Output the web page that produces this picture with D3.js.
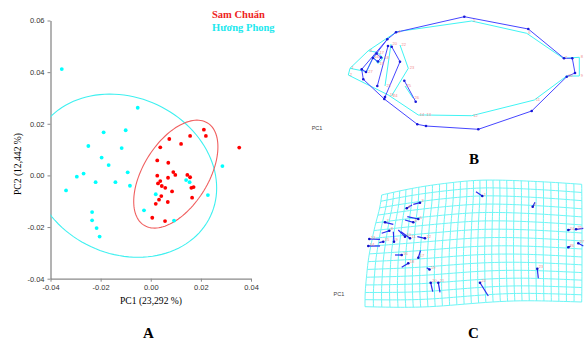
<!DOCTYPE html>
<html>
<head>
<meta charset="utf-8">
<script src="https://cdn.jsdelivr.net/npm/d3@7"></script>
<style>
  body { margin: 0; background: #fff; }
  svg { display: block; }
</style>
</head>
<body>
<div id="chart"></div>
<script>
// ---------- panel A : PCA scores ----------
var samChuanX = [0.0212,0.0157,0.0220,0.0074,0.0121,0.0038,0.0353,0.0026,0.0070,0.0026,0.0090,0.0098,0.0146,0.0157,0.0038,0.0069,0.0029,0.0044,0.0058,0.0162,0.0171,0.0085,0.0042,0.0165,0.0033,0.0068,0.0020,0.0006,0.0057]
var samChuanY = [0.0177,0.0153,0.0153,0.0141,0.0122,0.0109,0.0108,0.0058,0.0049,-0.0001,0.0013,0.0002,0.0002,-0.0007,-0.0022,-0.0009,-0.0031,-0.0041,-0.0048,-0.0048,-0.0045,-0.0062,-0.0080,-0.0086,-0.0094,-0.0103,-0.0110,-0.0164,-0.0177]
var huongPhongX = [-0.0355,-0.0052,-0.0188,-0.0100,-0.0249,-0.0116,-0.0196,-0.0168,-0.0268,-0.0295,-0.0092,-0.0220,-0.0141,-0.0083,-0.0338,-0.0027,-0.0234,-0.0234,-0.0216,-0.0204,0.0141,0.0155,0.0020,0.0093,0.0228,0.0286]
var huongPhongY = [0.0412,0.0262,0.0167,0.0175,0.0114,0.0106,0.0069,0.0040,0.0007,-0.0005,0.0012,-0.0026,-0.0026,-0.0040,-0.0058,-0.0135,-0.0142,-0.0174,-0.0204,-0.0237,-0.0018,-0.0026,-0.0073,-0.0175,-0.0076,0.0036]
// ellipse: centre x, centre y, spread x, spread y, correlation
var samChuanEllipse = [0.0100, 0.0005, 0.0168, 0.0209, 0.506]
var huongPhongEllipse = [-0.0107, -0.0001, 0.0370, 0.0316, -0.151]
var xTicks = [-0.04, -0.02, 0.00, 0.02, 0.04]
var yTicks = [-0.04, -0.02, 0.00, 0.02, 0.04, 0.06]
var groupNames = ["Sam Chuẩn", "Hương Phong"]

// ---------- panel B : wireframes (mean = cyan, PC1 = blue) ----------
var meanShape = [[10,58.3],[8.3,65],[28.3,40.7],[56.7,21.7],[131.7,11],[186.7,23.3],[223.3,48.3],[239.3,47.3],[239.3,66],[226.7,66],[194.3,90],[131.7,105.7],[85,105],[78.3,105],[48.3,85],[33,47],[38,42.5],[43,48],[38,53.5],[51,34],[45,76],[60,35],[68.3,58.3],[51.5,86],[65,76],[73,88],[26.7,61.7]]
var pc1Shape = [[21.7,59.3],[23.3,69.3],[47.3,29.3],[56,22.3],[124.3,6.7],[188.3,19],[224,48.3],[232.3,48.3],[235,63],[226.7,66.7],[191.7,101],[138.3,119.3],[86,116],[77.3,114.3],[44.3,89],[33,48],[36.5,43.5],[41,47.5],[38,51.5],[48,36],[37.3,76],[51.7,36.7],[60,51.7],[45,87],[64.3,70.7],[75.7,91.7],[26,62]]
var links = [[0,2],[2,3],[3,4],[4,5],[5,6],[6,7],[7,8],[8,9],[9,10],[10,11],[11,12],[12,13],[13,14],[14,1],[1,0],
             [15,16],[16,17],[17,18],[18,15],[2,16],[0,26],[26,15],[19,20],[21,22],[22,23],[24,25]]

// ---------- panel C : deformation grid + landmark shifts ----------
var gridTop = [[21.7,20],[43.3,15],[66.7,10.7],[93.3,7.3],[116.7,5],[140,5],[166.7,6],[193.3,7.3],[221.7,9.3]]
var gridBottom = [[5,131.7],[40,132.5],[70,132],[100,129.5],[130,127],[160,125.5],[190,126],[221.7,127]]
var gridLeft = [[21.7,20],[20,33.3],[15,50],[11.7,66.7],[8.3,83.3],[6.7,100],[5,116.7],[5,131.7]]
var gridRight = [[221.7,9.3],[222,40],[222,70],[222,100],[221.7,127]]
var shiftStart = [[122.3,21],[172.7,31.7],[60,27.7],[46.7,33.3],[58.3,44],[53.3,47.3],[25,47.3],[29.3,55.7],[34,66.7],[45,61.7],[50,63.3],[65,63.3],[9.3,64],[8.3,71],[23.3,66.7],[41.7,80],[58.3,82.7],[48.3,88.3],[69.5,94.5],[70.7,107.7],[78.3,107.7],[120,107.7],[177.3,93.7],[208.3,55],[216,54.3],[208.3,72.3],[218.3,68.3]]
var shiftEnd = [[116,16.7],[175,27.3],[53.3,29.3],[52,30],[47.3,41.7],[45,45],[33.3,49.3],[21.7,58.3],[33.3,56.7],[38.3,55],[41,56.7],[57.3,61.7],[20,64.3],[20,71],[19.3,67.7],[35,80],[60.5,75.5],[41.7,92.3],[66.7,92.7],[72.7,116.7],[80,117.3],[128.3,121],[178.3,103.3],[210.7,54.3],[223.3,53.3],[210.7,71],[223.3,71]]

var red = "#ff0000", cyan = "#00ffff", blue = "#4646ff", pink = "#f08c8c"

var svg = d3.select("#chart").append("svg")
    .attr("width", 587)
    .attr("height", 342)

//############  PANEL A  ############
var x = d3.scaleLinear().domain([-0.04, 0.04]).range([50.5, 251])
var y = d3.scaleLinear().domain([-0.04, 0.06]).range([278.7, 20.5])

svg.append("clipPath").attr("id", "plotclip")
  .append("rect")
    .attr("x", x(-0.04)).attr("y", y(0.06))
    .attr("width", x(0.04) - x(-0.04)).attr("height", y(-0.04) - y(0.06))

var fmt = function(d){ return d.toFixed(2) }

var yAxis = svg.append("g")
    .attr("transform", "translate(" + x(-0.04) + ",0)")
    .call(d3.axisLeft(y).tickValues(yTicks).tickFormat(fmt).tickSize(3).tickSizeOuter(0))
var xAxis = svg.append("g")
    .attr("transform", "translate(0," + y(-0.04) + ")")
    .call(d3.axisBottom(x).tickValues(xTicks).tickFormat(fmt).tickSize(3).tickSizeOuter(0))

;[xAxis, yAxis].forEach(function(a){
  a.select(".domain").attr("stroke", "#8a8a8a").attr("stroke-width", 1.3)
  a.selectAll(".tick line").attr("stroke", "#8a8a8a")
  a.selectAll("text")
    .style("font-family", "Liberation Sans, Arial, sans-serif")
    .style("font-size", "7.5px")
    .attr("fill", "#333")
})

// ellipse outline built from its parameters
function ellipsePath(e){
  var pts = d3.range(0, 121).map(function(i){
    var t = i / 120 * 2 * Math.PI
    var dx = e[2] * Math.cos(t)
    var dy = e[3] * (e[4] * Math.cos(t) + Math.sqrt(1 - e[4] * e[4]) * Math.sin(t))
    return [x(e[0] + dx), y(e[1] + dy)]
  })
  return d3.line()(pts)
}

var plot = svg.append("g").attr("clip-path", "url(#plotclip)")
plot.append("path").attr("d", ellipsePath(huongPhongEllipse))
    .attr("fill", "none").attr("stroke", "#3ff0f0").attr("stroke-width", 1.1)
plot.append("path").attr("d", ellipsePath(samChuanEllipse))
    .attr("fill", "none").attr("stroke", "#f06060").attr("stroke-width", 1.1)

plot.selectAll("hpDots")
  .data(huongPhongX)
  .enter()
  .append("circle")
    .attr("cx", function(d){ return x(d) })
    .attr("cy", function(d, i){ return y(huongPhongY[i]) })
    .attr("r", 1.9)
    .style("fill", cyan)

plot.selectAll("scDots")
  .data(samChuanX)
  .enter()
  .append("circle")
    .attr("cx", function(d){ return x(d) })
    .attr("cy", function(d, i){ return y(samChuanY[i]) })
    .attr("r", 1.9)
    .style("fill", red)

// legend
svg.selectAll("legendText")
  .data(groupNames)
  .enter()
  .append("text")
    .attr("x", 212)
    .attr("y", function(d, i){ return 18 + i * 13.3 })
    .text(function(d){ return d })
    .style("font-family", "Liberation Serif, Times New Roman, serif")
    .style("font-weight", "bold")
    .style("font-size", "10.5px")
    .style("fill", function(d, i){ return i == 0 ? "#ee2222" : "#22e8ee" })

// axis titles
svg.append("text")
    .attr("x", 151).attr("y", 303.5)
    .attr("text-anchor", "middle")
    .style("font-family", "Liberation Serif, Times New Roman, serif")
    .style("font-size", "9.6px")
    .text("PC1 (23,292 %)")
svg.append("text")
    .attr("transform", "translate(20.5,164) rotate(-90)")
    .attr("text-anchor", "middle")
    .style("font-family", "Liberation Serif, Times New Roman, serif")
    .style("font-size", "9.6px")
    .text("PC2 (12,442 %)")

//############  PANEL B  ############
var xB = d3.scaleLinear().domain([0, 100]).range([340, 440])
var yB = d3.scaleLinear().domain([0, 100]).range([10, 110])
var gB = svg.append("g")

function drawFrame(shape, colour){
  gB.selectAll(null)
    .data(links)
    .enter()
    .append("line")
      .attr("x1", function(d){ return xB(shape[d[0]][0]) })
      .attr("y1", function(d){ return yB(shape[d[0]][1]) })
      .attr("x2", function(d){ return xB(shape[d[1]][0]) })
      .attr("y2", function(d){ return yB(shape[d[1]][1]) })
      .attr("stroke", colour)
      .attr("stroke-width", 1)
}
drawFrame(meanShape, "#40f4f4")
drawFrame(pc1Shape, blue)

gB.selectAll("meanLabels")
  .data(meanShape)
  .enter()
  .append("text")
    .attr("x", function(d){ return xB(d[0]) + 1.5 })
    .attr("y", function(d){ return yB(d[1]) + 1 })
    .text(function(d, i){ return i + 1 })
    .style("font-family", "Liberation Sans, Arial, sans-serif")
    .style("font-size", "4px")
    .style("fill", pink)

gB.selectAll("pc1Dots")
  .data(pc1Shape)
  .enter()
  .append("circle")
    .attr("cx", function(d){ return xB(d[0]) })
    .attr("cy", function(d){ return yB(d[1]) })
    .attr("r", 1.3)
    .style("fill", "#1818d8")

svg.append("text")
    .attr("x", 311.7).attr("y", 130)
    .style("font-family", "Liberation Sans, Arial, sans-serif")
    .style("font-size", "5.5px")
    .style("fill", "#444")
    .text("PC1")

//############  PANEL C  ############
var xC = d3.scaleLinear().domain([0, 100]).range([360, 460])
var yC = d3.scaleLinear().domain([0, 100]).range([175, 275])
var gC = svg.append("g")

function edge(pts){
  var ix = d3.interpolateBasis(pts.map(function(p){ return p[0] }))
  var iy = d3.interpolateBasis(pts.map(function(p){ return p[1] }))
  return function(s){ return [ix(s), iy(s)] }
}
var T = edge(gridTop), Bo = edge(gridBottom), L = edge(gridLeft), R = edge(gridRight)

// Coons patch from the four border curves
function node(u, v){
  var t = T(u), b = Bo(u), l = L(v), r = R(v)
  var c00 = T(0), c10 = T(1), c01 = Bo(0), c11 = Bo(1)
  var out = [0, 1].map(function(k){
    return (1 - v) * t[k] + v * b[k] + (1 - u) * l[k] + u * r[k]
      - ((1 - u) * (1 - v) * c00[k] + u * (1 - v) * c10[k] + (1 - u) * v * c01[k] + u * v * c11[k])
  })
  return [xC(out[0]), yC(out[1])]
}

var nCols = 29, nRows = 15
var gridLine = d3.line()
var rowLines = d3.range(nRows + 1).map(function(j){
  return d3.range(0, 61).map(function(k){ return node(k / 60, j / nRows) })
})
var colLines = d3.range(nCols + 1).map(function(i){
  return d3.range(0, 31).map(function(k){ return node(i / nCols, k / 30) })
})
gC.selectAll("gridLines")
  .data(rowLines.concat(colLines))
  .enter()
  .append("path")
    .attr("d", function(d){ return gridLine(d) })
    .attr("fill", "none")
    .attr("stroke", "#6ff6f6")
    .attr("stroke-width", 1)

gC.selectAll("shiftLines")
  .data(shiftStart)
  .enter()
  .append("line")
    .attr("x1", function(d){ return xC(d[0]) })
    .attr("y1", function(d){ return yC(d[1]) })
    .attr("x2", function(d, i){ return xC(shiftEnd[i][0]) })
    .attr("y2", function(d, i){ return yC(shiftEnd[i][1]) })
    .attr("stroke", "#2a2aee")
    .attr("stroke-width", 1.2)

gC.selectAll("shiftDots")
  .data(shiftStart)
  .enter()
  .append("circle")
    .attr("cx", function(d){ return xC(d[0]) })
    .attr("cy", function(d){ return yC(d[1]) })
    .attr("r", 1.3)
    .style("fill", "#1010c8")

gC.selectAll("shiftLabels")
  .data(shiftStart)
  .enter()
  .append("text")
    .attr("x", function(d){ return xC(d[0]) + 1.5 })
    .attr("y", function(d){ return yC(d[1]) - 0.5 })
    .text(function(d, i){ return i + 1 })
    .style("font-family", "Liberation Sans, Arial, sans-serif")
    .style("font-size", "4px")
    .style("fill", pink)

svg.append("text")
    .attr("x", 333.5).attr("y", 296)
    .style("font-family", "Liberation Sans, Arial, sans-serif")
    .style("font-size", "5.5px")
    .style("fill", "#444")
    .text("PC1")

// panel letters
var panelLetters = ["A", "B", "C"]
var letterPos = [[148.5, 337.5], [474, 164], [473.5, 337.5]]
svg.selectAll("letters")
  .data(panelLetters)
  .enter()
  .append("text")
    .attr("x", function(d, i){ return letterPos[i][0] })
    .attr("y", function(d, i){ return letterPos[i][1] })
    .attr("text-anchor", "middle")
    .text(function(d){ return d })
    .style("font-family", "Liberation Serif, Times New Roman, serif")
    .style("font-weight", "bold")
    .style("font-size", "15px")
</script>
</body>
</html>
